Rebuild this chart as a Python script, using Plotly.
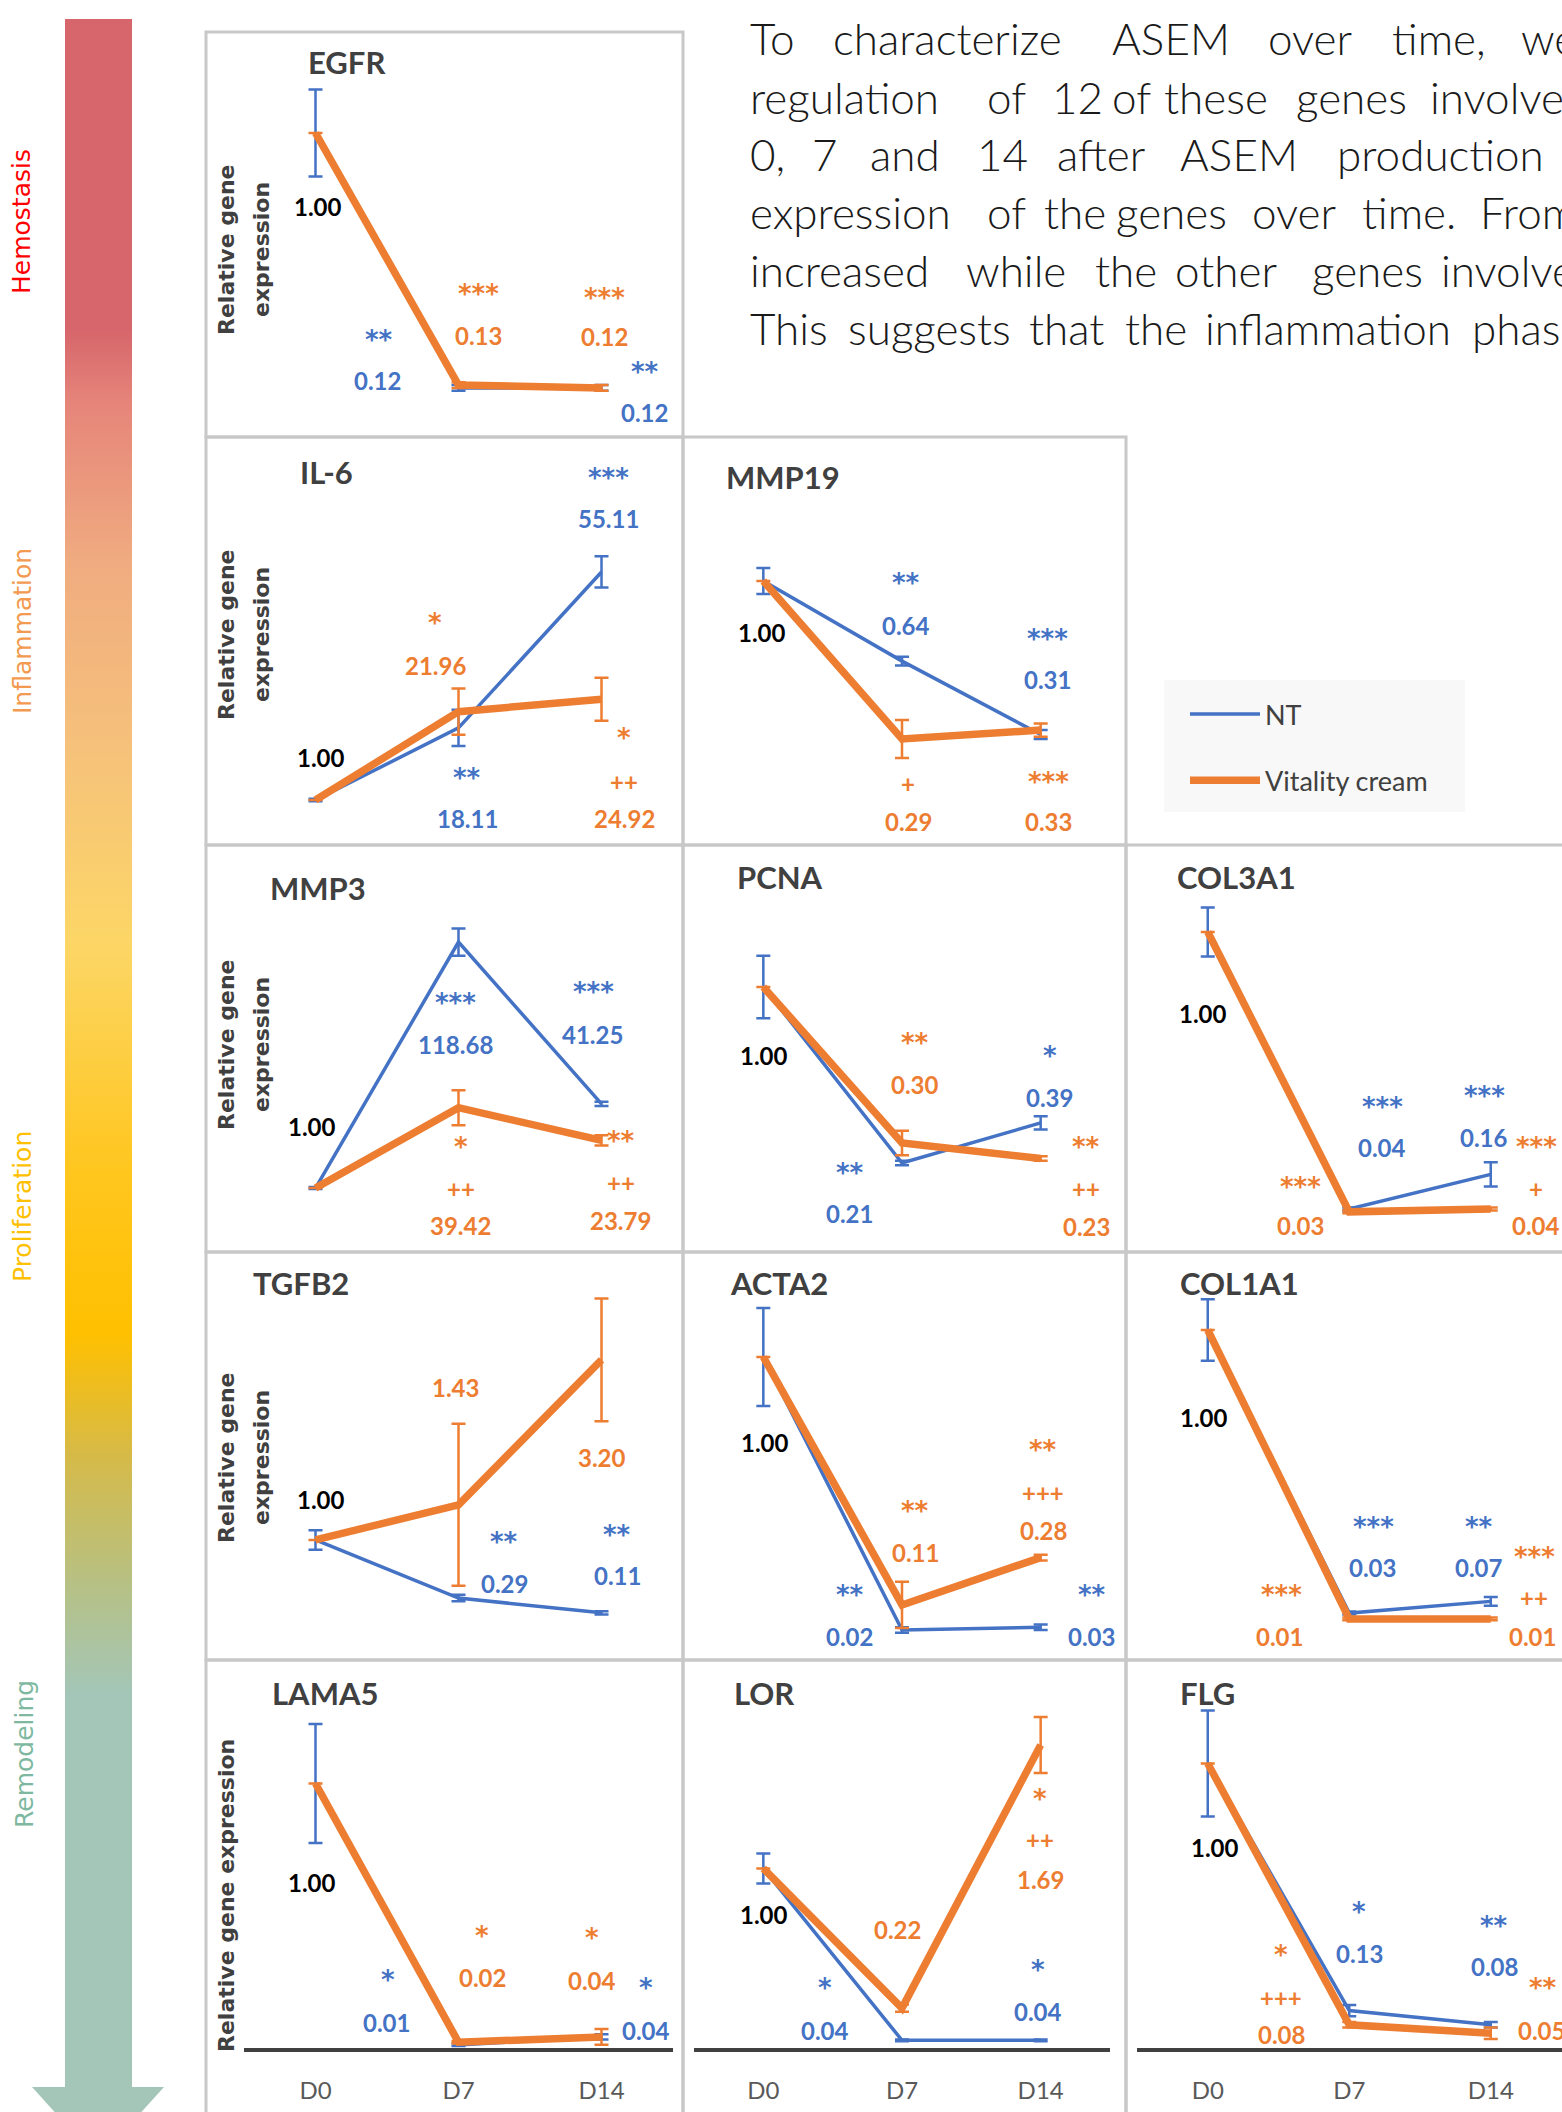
import plotly.graph_objects as go

# ---------------- data ----------------
days = ["D0", "D7", "D14"]
genes = ["EGFR", "IL-6", "MMP19", "MMP3", "PCNA", "COL3A1",
         "TGFB2", "ACTA2", "COL1A1", "LAMA5", "LOR", "FLG"]
series_names = ["NT", "Vitality cream"]
phases = ["Hemostasis", "Inflammation", "Proliferation", "Remodeling"]

nt_values = [
    [1.00, 0.12, 0.12],
    [1.00, 18.11, 55.11],
    [1.00, 0.64, 0.31],
    [1.00, 118.68, 41.25],
    [1.00, 0.21, 0.39],
    [1.00, 0.04, 0.16],
    [1.00, 0.29, 0.11],
    [1.00, 0.02, 0.03],
    [1.00, 0.03, 0.07],
    [1.00, 0.01, 0.04],
    [1.00, 0.04, 0.04],
    [1.00, 0.13, 0.08],
]
vc_values = [
    [1.00, 0.13, 0.12],
    [1.00, 21.96, 24.92],
    [1.00, 0.29, 0.33],
    [1.00, 39.42, 23.79],
    [1.00, 0.30, 0.23],
    [1.00, 0.03, 0.04],
    [1.00, 1.43, 3.20],
    [1.00, 0.11, 0.28],
    [1.00, 0.01, 0.01],
    [1.00, 0.02, 0.04],
    [1.00, 0.22, 1.69],
    [1.00, 0.08, 0.05],
]
nt_errors = [
    [0.15, 0.01, 0.01],
    [0.3, 4.3, 3.7],
    [0.058, 0.02, 0.02],
    [0.5, 6.5, 1.0],
    [0.14, 0.01, 0.03],
    [0.085, 0.005, 0.042],
    [0.12, 0.04, 0.02],
    [0.176, 0.01, 0.01],
    [0.105, 0.005, 0.015],
    [0.225, 0.005, 0.01],
    [0.084, 0.005, 0.005],
    [0.187, 0.02, 0.01],
]
vc_errors = [
    [0, 0.01, 0.01],
    [0, 5.5, 5.1],
    [0, 0.085, 0.03],
    [0, 8.4, 2.4],
    [0, 0.055, 0.01],
    [0, 0.005, 0.005],
    [0, 0.99, 0.75],
    [0, 0.083, 0.01],
    [0, 0.005, 0.005],
    [0, 0.005, 0.03],
    [0, 0.02, 0.156],
    [0, 0.01, 0.02],
]
nt_stars = [
    ["", "**", "**"], ["", "**", "***"], ["", "**", "***"], ["", "***", "***"],
    ["", "**", "*"], ["", "***", "***"], ["", "**", "**"], ["", "**", "**"],
    ["", "***", "**"], ["", "*", "*"], ["", "*", "*"], ["", "*", "**"],
]
vc_stars = [
    ["", "***", "***"], ["", "*", "*"], ["", "", "***"], ["", "*", "**"],
    ["", "**", "**"], ["", "***", "***"], ["", "", ""], ["", "**", "**"],
    ["", "***", "***"], ["", "*", "*"], ["", "", "*"], ["", "*", "**"],
]
vc_plus = [
    ["", "", ""], ["", "", "++"], ["", "+", ""], ["", "++", "++"],
    ["", "", "++"], ["", "", "+"], ["", "", ""], ["", "", "+++"],
    ["", "", "++"], ["", "", ""], ["", "", "++"], ["", "+++", ""],
]
body_lines = [
    ["To", "characterize", "ASEM", "over", "time,", "we"],
    ["regulation", "of", "12", "of", "these", "genes", "involved"],
    ["0,", "7", "and", "14", "after", "ASEM", "production"],
    ["expression", "of", "the", "genes", "over", "time.", "From"],
    ["increased", "while", "the", "other", "genes", "involved"],
    ["This", "suggests", "that", "the", "inflammation", "phase"],
]

# ---------------- layout / style ----------------
W, H = 1562, 2112
BLUE, ORANGE = "#4472C4", "#ED7D31"
GRAY_T = "#404040"


def px(x):
    return x / W


def py(y):
    return 1 - y / H


panel_rc = [(0, 0), (1, 0), (1, 1), (2, 0), (2, 1), (2, 2),
            (3, 0), (3, 1), (3, 2), (4, 0), (4, 1), (4, 2)]
col_px = [(244, 673), (694, 1110), (1137, 1562)]
col_step = [143.0, 138.67, 141.5]
row_px = [(35, 435), (440, 843), (848, 1250), (1255, 1658), (1663, 2047.5)]
zero_px = [422.7, 804.2, 803.5, 1190.1, 1209.8, 1220.5,
           1621.8, 1635.6, 1621.8, 2047.5, 2047.5, 2047.5]
unit_px = [289.7, 4.214, 222.5, 2.090, 222.8, 288.5,
           81.82, 278.6, 291.8, 264, 179, 284]

box_cols = [(206, 683), (683, 1126), (1126, 1575)]
box_rows = [(32, 437), (437, 845), (845, 1252), (1252, 1660), (1660, 2125)]

title_pos = [(306, 62), (298, 472), (724, 477), (268, 888), (735, 877), (1175, 877),
             (251, 1283), (728, 1283), (1178, 1283), (270, 1693), (732, 1693), (1178, 1693)]

label_pos = [
    dict(one=(318, 206), nts1=(379, 335), nt1=(377, 380), vcs1=(478, 289), vc1=(478, 336),
         vcs2=(604, 293), vc2=(604, 337), nts2=(645, 367), nt2=(644, 412)),
    dict(one=(321, 757), vcs1=(435, 618), vc1=(435, 665), nts1=(467, 773), nt1=(467, 818),
         nts2=(608, 473), nt2=(608, 518), vcs2=(624, 733), vcp2=(624, 781), vc2=(624, 818)),
    dict(one=(762, 632), nts1=(906, 578), nt1=(906, 625), nts2=(1047, 634), nt2=(1047, 679),
         vcp1=(908, 783), vc1=(908, 822), vcs2=(1048, 777), vc2=(1048, 822)),
    dict(one=(312, 1126), nts1=(455, 998), nt1=(455, 1044), nts2=(593, 987), nt2=(592, 1035),
         vcs1=(461, 1142), vcp1=(461, 1188), vc1=(461, 1225), vcs2=(621, 1136), vcp2=(621, 1182),
         vc2=(620, 1220)),
    dict(one=(764, 1055), vcs1=(915, 1038), vc1=(915, 1084), nts1=(850, 1168), nt1=(849, 1213),
         nts2=(1050, 1051), nt2=(1049, 1097), vcs2=(1086, 1142), vcp2=(1086, 1188), vc2=(1086, 1226)),
    dict(one=(1203, 1013), nts1=(1382, 1102), nt1=(1382, 1147), nts2=(1484, 1091), nt2=(1484, 1137),
         vcs1=(1300, 1182), vc1=(1300, 1225), vcs2=(1536, 1142), vcp2=(1536, 1188), vc2=(1536, 1225)),
    dict(one=(321, 1499), vc1=(455, 1387), vc2=(602, 1457), nts1=(504, 1537), nt1=(504, 1583),
         nts2=(617, 1530), nt2=(617, 1575)),
    dict(one=(765, 1442), vcs1=(915, 1506), vc1=(915, 1552), nts1=(850, 1590), nt1=(849, 1636),
         vcs2=(1043, 1445), vcp2=(1043, 1492), vc2=(1043, 1530), nts2=(1092, 1590), nt2=(1091, 1636)),
    dict(one=(1204, 1417), nts1=(1373, 1522), nt1=(1372, 1567), nts2=(1479, 1522), nt2=(1479, 1567),
         vcs1=(1281, 1590), vc1=(1279, 1636), vcs2=(1534, 1552), vcp2=(1534, 1597), vc2=(1532, 1636)),
    dict(one=(312, 1882), nts1=(388, 1975), nt1=(386, 2022), vcs1=(482, 1931), vc1=(482, 1977),
         vcs2=(592, 1933), vc2=(592, 1980), nts2=(646, 1983), nt2=(646, 2030)),
    dict(one=(764, 1914), nts1=(825, 1983), nt1=(825, 2030), vc1=(897, 1929), vcs2=(1040, 1794),
         vcp2=(1040, 1839), vc2=(1040, 1879), nts2=(1038, 1965), nt2=(1038, 2011)),
    dict(one=(1215, 1847), nts1=(1359, 1907), nt1=(1359, 1953), nts2=(1494, 1921), nt2=(1494, 1966),
         vcs1=(1281, 1950), vcp1=(1281, 1997), vc1=(1281, 2034), vcs2=(1543, 1983), vc2=(1541, 2030)),
]

ytitle_rows = [(0, 250), (1, 635), (3, 1045), (6, 1458)]
body_x = [
    [748, 831, 1110, 1266, 1390, 1519],
    [748, 985, 1050, 1110, 1162, 1294, 1428],
    [748, 810, 868, 975, 1055, 1178, 1335],
    [748, 985, 1042, 1114, 1250, 1360, 1478],
    [748, 964, 1093, 1173, 1310, 1439],
    [748, 846, 1027, 1123, 1203, 1470],
]
body_y = [38, 97, 154, 212, 270, 328]
phase_pos = [(22, 222), (22, 631), (22, 1207), (24, 1754)]
phase_colors = ["#FF0000", "#F39A50", "#FFC000", "#7EB8A0"]

fig = go.Figure()
layout_axes = {}
annotations = []
shapes = []

LBL_FONT = dict(family="Lato, Carlito, sans-serif", size=24, weight=700)
STAR_FONT = dict(family="DejaVu Sans, Verdana, sans-serif", size=26, weight=700)

for i, g in enumerate(genes):
    r, c = panel_rc[i]
    sfx = "" if i == 0 else str(i + 1)
    xa, ya = "x" + sfx, "y" + sfx
    c0, c1 = col_px[c]
    r0, r1 = row_px[r]
    z, u = zero_px[i], unit_px[i]
    bottom_row = (r == 4)
    layout_axes["xaxis" + sfx] = dict(
        domain=[px(c0), px(c1)], anchor=ya, type="category", categoryorder="array",
        categoryarray=days, range=[-0.5, -0.5 + (c1 - c0) / col_step[c]],
        showgrid=False, zeroline=False, fixedrange=True,
        visible=bottom_row, showline=bottom_row, linecolor=GRAY_T, linewidth=4,
        ticks="", showticklabels=bottom_row, ticklabelstandoff=19,
        tickfont=dict(family="Lato, Carlito, sans-serif", size=24, color="#595959"),
    )
    layout_axes["yaxis" + sfx] = dict(
        domain=[py(r1), py(r0)], anchor=xa, range=[(z - r1) / u, (z - r0) / u],
        visible=False, showgrid=False, zeroline=False, fixedrange=True,
    )
    fig.add_trace(go.Scatter(
        x=days, y=nt_values[i], mode="lines", name=series_names[0], legendgroup="nt",
        showlegend=(i == 0), line=dict(color=BLUE, width=3.5),
        error_y=dict(type="data", array=nt_errors[i], color=BLUE, thickness=2.5, width=7),
        xaxis=xa, yaxis=ya, hoverinfo="skip"))
    fig.add_trace(go.Scatter(
        x=days, y=vc_values[i], mode="lines", name=series_names[1], legendgroup="vc",
        showlegend=(i == 0), line=dict(color=ORANGE, width=7.5),
        error_y=dict(type="data", array=vc_errors[i], color=ORANGE, thickness=2.5, width=7),
        xaxis=xa, yaxis=ya, hoverinfo="skip"))

    # panel box
    bx0, bx1 = box_cols[c]
    by0, by1 = box_rows[r]
    shapes.append(dict(type="rect", xref="paper", yref="paper", x0=px(bx0), x1=px(bx1),
                       y0=py(by1), y1=py(by0), line=dict(color="#C8C8C8", width=3),
                       fillcolor="rgba(0,0,0,0)", layer="below"))

    # title
    tx, ty = title_pos[i]
    annotations.append(dict(text=g, x=px(tx), y=py(ty), xref="paper", yref="paper",
                            xanchor="left", yanchor="middle", showarrow=False,
                            font=dict(family="Lato, Carlito, sans-serif", size=31,
                                      weight=700, color=GRAY_T)))

    # data labels
    lp = label_pos[i]

    def add_lbl(key, text, color, font=LBL_FONT, dy=0):
        if key in lp and text:
            x, y = lp[key]
            annotations.append(dict(text=text, x=px(x), y=py(y + dy), xref="paper",
                                    yref="paper", xanchor="center", yanchor="middle",
                                    showarrow=False, font=dict(font, color=color)))

    add_lbl("one", f"{nt_values[i][0]:.2f}", "#000000")
    for k in (1, 2):
        add_lbl(f"nt{k}", f"{nt_values[i][k]:.2f}", BLUE)
        add_lbl(f"vc{k}", f"{vc_values[i][k]:.2f}", ORANGE)
        add_lbl(f"nts{k}", nt_stars[i][k], BLUE, font=STAR_FONT, dy=5)
        add_lbl(f"vcs{k}", vc_stars[i][k], ORANGE, font=STAR_FONT, dy=5)
        add_lbl(f"vcp{k}", vc_plus[i][k], ORANGE)

# y-axis titles (column 1)
YT_FONT = dict(family="DejaVu Sans, Verdana, sans-serif", size=22, weight=700, color=GRAY_T)
for i, yc in ytitle_rows:
    annotations.append(dict(text="Relative gene", x=px(226), y=py(yc), xref="paper", yref="paper",
                            textangle=-90, showarrow=False, xanchor="center", yanchor="middle",
                            font=YT_FONT))
    annotations.append(dict(text="expression", x=px(261), y=py(yc), xref="paper", yref="paper",
                            textangle=-90, showarrow=False, xanchor="center", yanchor="middle",
                            font=YT_FONT))
annotations.append(dict(text="Relative gene expression", x=px(226), y=py(1896), xref="paper",
                        yref="paper", textangle=-90, showarrow=False, xanchor="center",
                        yanchor="middle", font=YT_FONT))

# phase labels
for name, (x, y), col in zip(phases, phase_pos, phase_colors):
    annotations.append(dict(text=name, x=px(x), y=py(y), xref="paper", yref="paper",
                            textangle=-90, showarrow=False, xanchor="center", yanchor="middle",
                            font=dict(family="DejaVu Sans, Verdana, sans-serif", size=25,
                                      color=col)))

# body text (justified, word by word)
for words, xs, y in zip(body_lines, body_x, body_y):
    for w, x in zip(words, xs):
        annotations.append(dict(text=w, x=px(x), y=py(y), xref="paper", yref="paper",
                                xanchor="left", yanchor="middle", showarrow=False,
                                font=dict(family="Lato, sans-serif", size=44, weight=300,
                                          color="#1A1A1A")))

# legend background
shapes.append(dict(type="rect", xref="paper", yref="paper", x0=px(1164), x1=px(1465),
                   y0=py(812), y1=py(680), line=dict(width=0), fillcolor="#F8F8F8",
                   layer="below"))

# gradient arrow (pixel overlay axes)
layout_axes["xaxis13"] = dict(domain=[0, px(200)], range=[0, 200], anchor="y13",
                              visible=False, fixedrange=True)
layout_axes["yaxis13"] = dict(domain=[0, 1], range=[H, 0], anchor="x13",
                              visible=False, fixedrange=True)
bar_top, bar_bot = 19, 2088
grad_stops = [(19, "#D6666B"), (330, "#D6666B"), (404, "#E6857A"), (566, "#F0AC80"),
              (754, "#F6C27A"), (943, "#FCD666"), (1172, "#FFC61E"), (1334, "#FFC000"),
              (1455, "#D6BA48"), (1590, "#B5C187"), (1697, "#A3C6B9"), (2088, "#A3C6B9")]
cscale = [[(p - bar_top) / (bar_bot - bar_top), col] for p, col in grad_stops]
fig.add_trace(go.Scatter(
    x=[65, 132, 132, 65, 65], y=[bar_top, bar_top, bar_bot, bar_bot, bar_top],
    mode="lines", fill="toself", line=dict(width=0, color="#A3C6B9"),
    fillgradient=dict(type="vertical", colorscale=cscale, start=bar_top, stop=bar_bot),
    xaxis="x13", yaxis="y13", showlegend=False, hoverinfo="skip"))
fig.add_trace(go.Scatter(
    x=[32, 164, 98, 32], y=[2087, 2087, 2160, 2087], mode="lines", fill="toself",
    fillcolor="#A3C6B9", line=dict(width=0, color="#A3C6B9"),
    xaxis="x13", yaxis="y13", showlegend=False, hoverinfo="skip"))

fig.update_layout(
    width=W, height=H, margin=dict(l=0, r=0, t=0, b=0),
    paper_bgcolor="white", plot_bgcolor="rgba(0,0,0,0)",
    showlegend=True, hovermode=False,
    legend=dict(x=px(1185), y=py(690), xanchor="left", yanchor="top",
                bgcolor="rgba(0,0,0,0)", borderwidth=0, itemwidth=70, tracegroupgap=28,
                font=dict(family="Lato, Carlito, sans-serif", size=27, color=GRAY_T),
                itemclick=False, itemdoubleclick=False),
    annotations=annotations, shapes=shapes,
    **layout_axes,
)

fig.write_html("out.html", config=dict(displayModeBar=False, staticPlot=True),
               post_script="document.body.style.margin='0';document.body.style.overflow='hidden';")
